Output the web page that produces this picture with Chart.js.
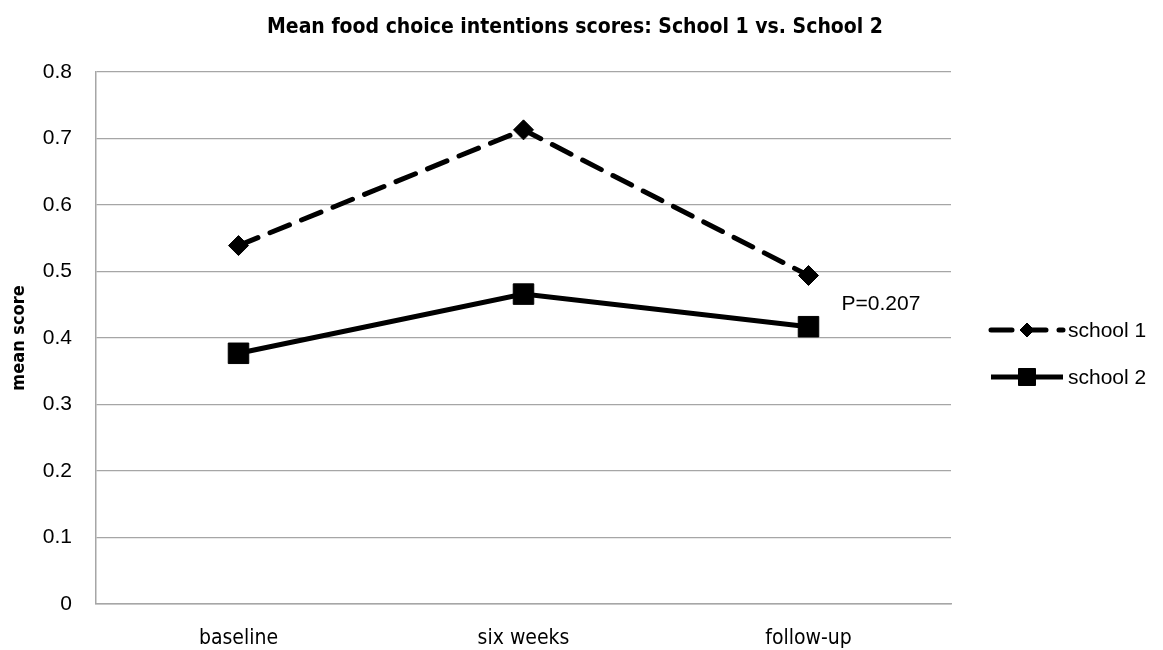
<!DOCTYPE html>
<html>
<head>
<meta charset="utf-8">
<script src="https://cdn.jsdelivr.net/npm/chart.js@4/dist/chart.umd.min.js"></script>
<style>
  html, body { margin: 0; padding: 0; background: #fff; }
  #wrap { width: 1163px; height: 650px; position: relative; }
</style>
</head>
<body>
<div id="wrap"><canvas id="c" width="1163" height="650"></canvas></div>
<script>
// Survey time points and mean food choice intention scores per school
const categories = ['baseline', 'six weeks', 'follow-up'];
const school1 = [0.539, 0.713, 0.494];
const school2 = [0.377, 0.466, 0.417];
const yTicks = [0, 0.1, 0.2, 0.3, 0.4, 0.5, 0.6, 0.7, 0.8];
const chartTitle = 'Mean food choice intentions scores: School 1 vs. School 2';
const pLabel = 'P=0.207';

const narrow = '"Liberation Sans Narrow", "DejaVu Sans Condensed", "Liberation Sans", Arial, sans-serif';
const regular = '"Liberation Sans", Arial, sans-serif';

// Title, p-value note and a legend that shows each series' line and marker
const decor = {
  id: 'decor',
  afterDraw(chart) {
    const ctx = chart.ctx;
    ctx.save();
    // title
    ctx.fillStyle = '#000';
    ctx.font = 'bold 21px ' + narrow;
    ctx.textAlign = 'center';
    ctx.textBaseline = 'middle';
    ctx.fillText(chartTitle, 575, 28);

    // p-value beside the follow-up points
    const xs = chart.scales.x, ys = chart.scales.y;
    const px = xs.getPixelForValue(2) + 33;
    const py = (ys.getPixelForValue(school1[2]) + ys.getPixelForValue(school2[2])) / 2 + 3;
    ctx.font = '21px ' + regular;
    ctx.textAlign = 'left';
    ctx.fillText(pLabel, px, py);

    // legend
    const lx0 = 991, lx1 = 1063;
    const rows = [330, 377];
    chart.data.datasets.forEach((ds, i) => {
      const y = rows[i];
      ctx.save();
      ctx.strokeStyle = ds.borderColor;
      ctx.lineWidth = ds.borderWidth;
      ctx.lineCap = ds.borderCapStyle || 'butt';
      ctx.setLineDash(ds.borderDash || []);
      ctx.beginPath();
      ctx.moveTo(lx0, y);
      ctx.lineTo(lx1, y);
      ctx.stroke();
      ctx.restore();
      Chart.helpers.drawPoint(ctx, {
        pointStyle: ds.pointStyle,
        radius: ds.legendRadius,
        borderWidth: 1,
        rotation: 0
      }, (lx0 + lx1) / 2, y);
      ctx.fillStyle = '#000';
      ctx.font = '21px ' + regular;
      ctx.textAlign = 'left';
      ctx.textBaseline = 'middle';
      ctx.fillText(ds.label, lx1 + 5, y + 1);
    });
    ctx.restore();
  }
};

new Chart(document.getElementById('c'), {
  type: 'line',
  data: {
    labels: categories,
    datasets: [
      {
        label: 'school 1',
        data: school1,
        borderColor: '#000',
        backgroundColor: '#000',
        borderWidth: 5,
        borderDash: [21, 13],
        borderCapStyle: 'round',
        pointStyle: 'rectRot',
        pointRadius: 10,
        pointBorderWidth: 1,
        legendRadius: 7,
        tension: 0
      },
      {
        label: 'school 2',
        data: school2,
        borderColor: '#000',
        backgroundColor: '#000',
        borderWidth: 5,
        pointStyle: 'rect',
        pointRadius: 14.5,
        pointBorderWidth: 1,
        legendRadius: 12,
        tension: 0
      }
    ]
  },
  options: {
    responsive: false,
    animation: false,
    layout: { padding: { top: 72, right: 212, left: 0, bottom: 0 } },
    plugins: {
      legend: { display: false },
      title: { display: false },
      tooltip: { enabled: false }
    },
    scales: {
      x: {
        offset: true,
        grid: { display: false, drawTicks: false },
        border: { color: '#a6a6a6', width: 1.5 },
        ticks: { color: '#000', font: { family: narrow, size: 21 }, padding: 22 },
        afterFit(s) { s.height = 46; }
      },
      y: {
        min: 0,
        max: 0.8,
        afterBuildTicks(s) { s.ticks = yTicks.map(v => ({ value: v })); },
        grid: { color: '#a6a6a6', lineWidth: 1.2, drawTicks: false },
        border: { color: '#a6a6a6', width: 1.5 },
        ticks: {
          color: '#000',
          font: { family: regular, size: 21 },
          padding: 24,
          callback: v => String(Math.round(v * 10) / 10)
        },
        title: {
          display: true,
          text: 'mean score',
          color: '#000',
          font: { family: narrow, size: 18, weight: 'bold' },
          padding: { top: 9, bottom: 0 }
        },
        afterFit(s) { s.width = 96; }
      }
    }
  },
  plugins: [decor]
});
</script>
</body>
</html>
